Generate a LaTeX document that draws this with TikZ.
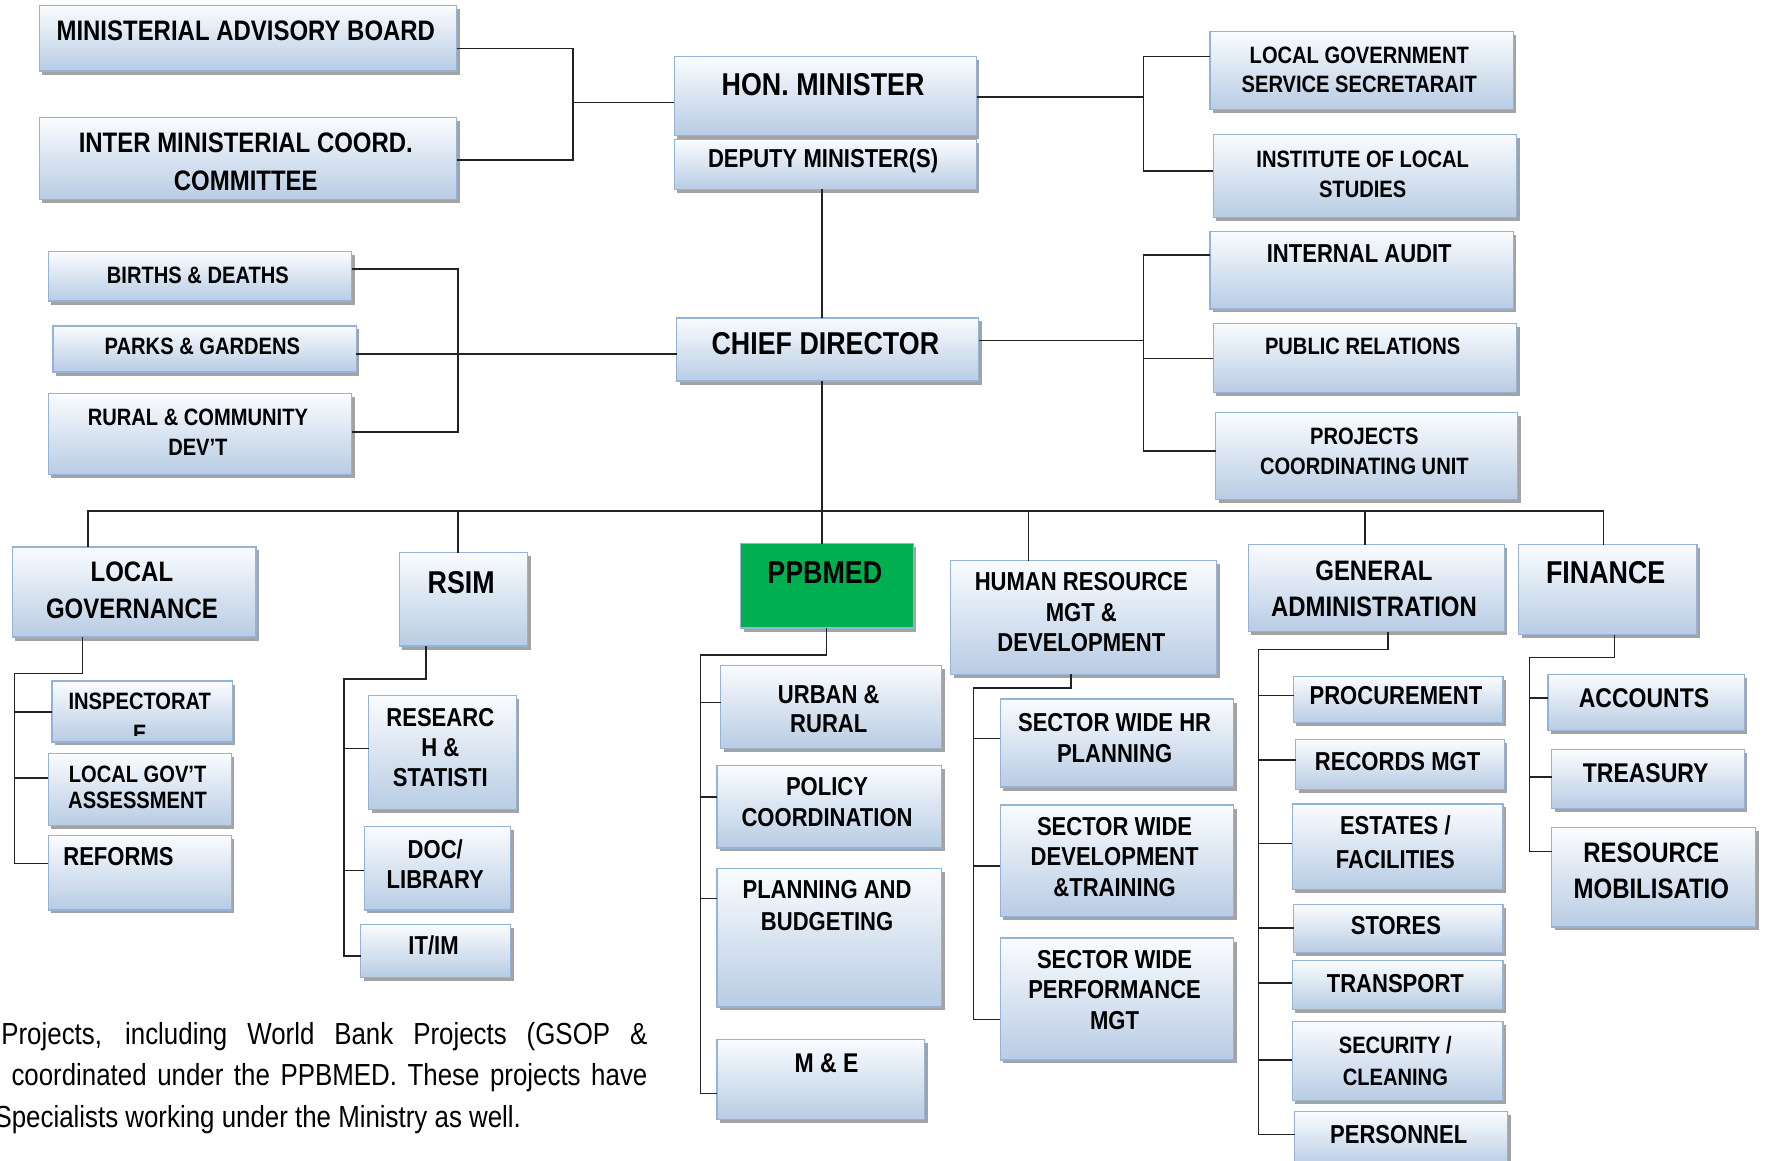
\documentclass[tikz,border=0pt]{standalone}
\usepackage{fontspec}
\setmainfont{Liberation Sans}[FakeStretch=0.85]
\usetikzlibrary{shadows,positioning}

\definecolor{unittop}{RGB}{250,252,254}
\definecolor{unitbot}{RGB}{184,204,228}
\definecolor{unitedge}{RGB}{149,179,215}
\definecolor{ppbgreen}{RGB}{0,176,80}
\definecolor{linkcol}{RGB}{35,35,35}

\tikzset{
  unit/.style={draw=unitedge, line width=1.3pt, top color=unittop, bottom color=unitbot,
    drop shadow={shadow xshift=3pt, shadow yshift=-3.5pt, fill=black!45, opacity=.8},
    inner sep=0pt, outer sep=0pt},
  greenunit/.style={draw=unitedge, line width=1.3pt, fill=ppbgreen,
    drop shadow={shadow xshift=3pt, shadow yshift=-3.5pt, fill=black!45, opacity=.8},
    inner sep=0pt, outer sep=0pt},
  txt/.style 2 args={font=\fontsize{#1}{#2}\selectfont\bfseries, align=center, inner sep=0pt},
  link/.style={draw=linkcol, line width=1.5pt},
  note/.style={font=\fontsize{27}{37}\selectfont, anchor=base west, inner sep=0pt}
}

% box from (x1,y1) to (x2,y2), text centred at height ty
\newcommand\unitbox[9][unit]{%
  \node[#1, minimum width={(#5-#3)*1pt}, minimum height={(#6-#4)*1pt}] (#2) at ({(#3+#5)/2},{(#4+#6)/2}) {};
  \node[#8] (#2-t) at ({(#3+#5)/2-2},#7) {#9};
}

\begin{document}
\begin{tikzpicture}[x=1pt, y=-1pt, scale=1.1276, transform shape]
  \useasboundingbox (0,0) rectangle (1568,1029);

  % top: minister and advisers
  \unitbox{mab}{35}{5}{405}{63}{27}{txt={25}{33}}{MINISTERIAL ADVISORY BOARD}
  \unitbox{imcc}{35}{104}{405}{177}{143.5}{txt={25}{33}}{INTER MINISTERIAL COORD.\\COMMITTEE}
  \unitbox{hon}{598}{50}{866}{120}{75}{txt={28}{32}}{HON. MINISTER}
  \unitbox{dep}{598}{124}{866}{168}{143}{txt={23}{27}}{DEPUTY MINISTER(S)}
  \unitbox{lgss}{1073}{28}{1342}{97}{62}{txt={21}{26}}{LOCAL GOVERNMENT\\SERVICE SECRETARAIT}
  \unitbox{ils}{1076}{119}{1345}{193}{154.5}{txt={21}{27}}{INSTITUTE OF LOCAL\\STUDIES}

  % chief director and staff units
  \unitbox{births}{43}{223}{312}{267}{244}{txt={21}{26}}{BIRTHS \& DEATHS}
  \unitbox{parks}{47}{289}{316}{330}{307.6}{txt={21}{26}}{PARKS \& GARDENS}
  \unitbox{rural}{43}{349}{312}{421}{383.5}{txt={21}{27}}{RURAL \& COMMUNITY\\DEV’T}
  \unitbox{cd}{600}{282}{868}{338}{305}{txt={28}{32}}{CHIEF DIRECTOR}
  \unitbox{ia}{1073}{205}{1342}{274}{224.6}{txt={23}{27}}{INTERNAL AUDIT}
  \unitbox{pr}{1076}{287}{1345}{348}{307}{txt={21}{26}}{PUBLIC RELATIONS}
  \unitbox{pcu}{1078}{366}{1346}{443}{400.5}{txt={21}{27}}{PROJECTS\\COORDINATING UNIT}

  % directorates
  \unitbox{lg}{11}{485}{227}{565}{523.5}{txt={25}{33}}{LOCAL\\GOVERNANCE}
  \unitbox{rsim}{354}{490}{468}{573}{517}{txt={28}{32}}{RSIM}
  \unitbox[greenunit]{ppbmed}{657}{482}{810}{557}{508}{txt={28}{32}}{PPBMED}
  \unitbox{hr}{843}{497}{1079}{598}{543}{txt={23}{27}}{HUMAN RESOURCE\\MGT \&\\DEVELOPMENT}
  \unitbox{ga}{1107}{483}{1334}{560}{522}{txt={25}{32}}{GENERAL\\ADMINISTRATION}
  \unitbox{fin}{1347}{483}{1505}{563}{508}{txt={28}{32}}{FINANCE}

  % local governance units
  \unitbox{insp}{46}{604}{206}{658}{622}{txt={21}{23}}{INSPECTORAT}
  \begin{scope}
    \clip (46,604) rectangle (206,652);
    \node[txt={21}{23}] (insp-e) at (124,650) {E};
  \end{scope}
  \unitbox{lga}{43}{668}{205}{732}{698.5}{txt={21}{23}}{LOCAL GOV’T\\ASSESSMENT}
  \unitbox{reforms}{43}{741}{205}{807}{760}{txt={23}{27}, anchor=west, xshift=-66pt}{REFORMS}

  % rsim units
  \unitbox{res}{327}{617}{458}{718}{663}{txt={23}{27}}{RESEARC\\H \&\\STATISTI}
  \unitbox{doc}{323}{733}{453}{807}{766.5}{txt={23}{27}}{DOC/\\LIBRARY}
  \unitbox{itim}{320}{820}{453}{867}{838}{txt={23}{27}}{IT/IM}

  % ppbmed units
  \unitbox{urb}{639}{590}{835}{664}{629}{txt={23}{26}}{URBAN \&\\RURAL}
  \unitbox{pol}{636}{679}{835}{752}{711.5}{txt={23}{27}}{POLICY\\COORDINATION}
  \unitbox{plan}{636}{770}{835}{893}{803}{txt={23}{28}}{PLANNING AND\\BUDGETING}
  \unitbox{mne}{636}{922}{820}{993}{943}{txt={24}{28}, xshift=7pt}{M \& E}

  % hr units
  \unitbox{hra}{887}{620}{1094}{698}{654.5}{txt={23}{27}}{SECTOR WIDE HR\\PLANNING}
  \unitbox{hrb}{887}{714}{1094}{813}{760}{txt={23}{27}}{SECTOR WIDE\\DEVELOPMENT\\\&TRAINING}
  \unitbox{hrc}{887}{832}{1094}{940}{878}{txt={23}{27}}{SECTOR WIDE\\PERFORMANCE\\MGT}

  % general administration units
  \unitbox{proc}{1147}{600}{1333}{641}{617}{txt={23}{27}}{PROCUREMENT}
  \unitbox{rec}{1149}{656}{1334}{700}{675}{txt={23}{27}}{RECORDS MGT}
  \unitbox{est}{1146}{713}{1333}{789}{747}{txt={23}{30}}{ESTATES /\\FACILITIES}
  \unitbox{sto}{1147}{802}{1333}{845}{821}{txt={23}{27}}{STORES}
  \unitbox{tra}{1146}{852}{1333}{895}{872}{txt={23}{27}}{TRANSPORT}
  \unitbox{sec}{1146}{906}{1333}{976}{941}{txt={21}{28}}{SECURITY /\\CLEANING}
  \unitbox{per}{1148}{986}{1337}{1035}{1006}{txt={23}{27}}{PERSONNEL}

  % finance units
  \unitbox{acc}{1373}{598}{1547}{648}{619}{txt={24}{28}}{ACCOUNTS}
  \unitbox{tre}{1376}{665}{1547}{717}{686}{txt={24}{28}}{TREASURY}
  \unitbox{rmob}{1376}{734}{1557}{822}{772}{txt={25}{32}}{RESOURCE\\MOBILISATIO}

  % junctions
  \coordinate (mj) at (508,91);
  \coordinate (rj) at (1014,86);
  \coordinate (lj) at (406,314);
  \coordinate (cj) at (1014,302);
  \coordinate (spine) at (729,453);
  \coordinate (busL) at (78,453);
  \coordinate (busR) at (1422,453);
  \coordinate (lgT) at (12.7,597);
  \coordinate (rsT) at (305,602);
  \coordinate (ppT) at (621,581);
  \coordinate (hrT) at (863,610);
  \coordinate (gaT) at (1116,576);
  \coordinate (fnT) at (1356,583);

  % connectors
  \draw[link] (mab.east |- 0,43) -| (mj) |- (imcc.east |- 0,142);
  \draw[link] (mj) -- (hon.west |- mj);
  \draw[link] (hon.east |- rj) -- (rj);
  \draw[link] (lgss.west |- 0,50) -| (rj) |- (ils.west |- 0,151.5);
  \draw[link] (dep.south -| spine) -- (cd.north -| spine);
  \draw[link] (births.east |- 0,238.6) -| (lj) |- (rural.east |- 0,383);
  \draw[link] (parks.east |- lj) -- (cd.west |- lj);
  \draw[link] (cd.east |- cj) -- (cj);
  \draw[link] (ia.west |- 0,226) -| (cj) |- (pcu.west |- 0,400);
  \draw[link] (pr.west |- 0,318) -- (cj |- 0,318);
  \draw[link] (cd.south -| spine) -- (ppbmed.north -| spine);
  \draw[link] (lg.north -| busL) -- (busL) -- (busR) -- (fin.north -| busR);
  \foreach \n/\x in {rsim/406, hr/912, ga/1210.6}
    \draw[link] (\n.north -| \x,0) -- (busL -| \x,0);

  \draw[link] (lg.south -| 73,0) |- (lgT) |- (reforms.west |- 0,766);
  \foreach \n/\y in {insp/631.5, lga/690}
    \draw[link] (lgT |- 0,\y) -- (\n.west |- 0,\y);
  \draw[link] (rsim.south -| 378,0) |- (rsT) |- (itim.west |- 0,848);
  \foreach \n/\y in {res/664, doc/772}
    \draw[link] (rsT |- 0,\y) -- (\n.west |- 0,\y);
  \draw[link] (ppbmed.south -| 733,0) |- (ppT) |- (mne.west |- 0,970);
  \foreach \n/\y in {urb/623, pol/707, plan/797}
    \draw[link] (ppT |- 0,\y) -- (\n.west |- 0,\y);
  \draw[link] (hr.south -| 950,0) |- (hrT) |- (hrc.west |- 0,904);
  \foreach \n/\y in {hra/655, hrb/768}
    \draw[link] (hrT |- 0,\y) -- (\n.west |- 0,\y);
  \draw[link] (ga.south -| 1231,0) |- (gaT) |- (per.west |- 0,1006);
  \foreach \n/\y in {proc/617, rec/674, est/748, sto/823, tra/872, sec/940}
    \draw[link] (gaT |- 0,\y) -- (\n.west |- 0,\y);
  \draw[link] (fin.south -| 1432,0) |- (fnT) |- (rmob.west |- 0,755);
  \foreach \n/\y in {acc/619, tre/689}
    \draw[link] (fnT |- 0,\y) -- (\n.west |- 0,\y);

  % note text
  \node[note] (note1) at (1,926) {\makebox[573pt][s]{Projects, including World Bank Projects (GSOP \&}};
  \node[note] (note2) at (10,963) {\makebox[564pt][s]{coordinated under the PPBMED. These projects have}};
  \node[note] (note3) at (-5,1000) {Specialists working under the Ministry as well.};
\end{tikzpicture}
\end{document}
